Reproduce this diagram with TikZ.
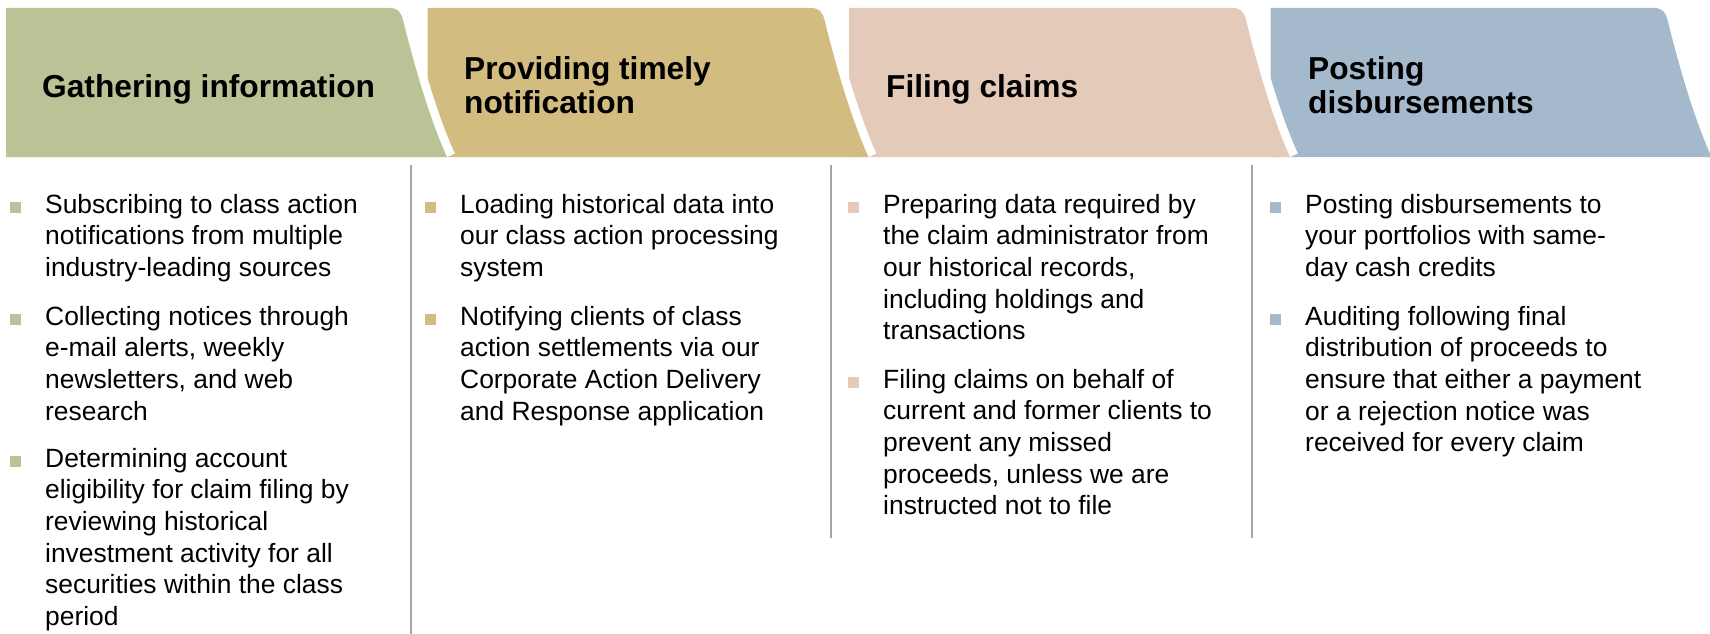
\documentclass[tikz,border=0pt]{standalone}
\usepackage{fontspec}
\setmainfont{Liberation Sans}
\definecolor{cgreen}{HTML}{B9C395}
\definecolor{ctan}{HTML}{D2BC80}
\definecolor{cpink}{HTML}{E3CAB9}
\definecolor{cblue}{HTML}{A5B9CD}
\definecolor{sepgray}{HTML}{A6A6A6}
\begin{document}
\begin{tikzpicture}[x=1pt,y=-1pt,
  halo/.style={draw=white,line width=17pt},
  hdr/.style={anchor=base west,inner sep=0pt,font=\fontsize{31.7}{35}\selectfont\bfseries},
  body/.style={anchor=base west,inner sep=0pt,font=\fontsize{26.4}{31.7}\selectfont},
  bul/.style={inner sep=0pt,minimum size=11pt,anchor=south west},
  sep/.style={draw=sepgray,line width=1.5pt}]
\useasboundingbox (0,0) rectangle (1710,634);
% header tabs, drawn right to left
\foreach \xo/\col in {1270.5/cblue,849/cpink,427.5/ctan,6/cgreen}{
  \begin{scope}[shift={(\xo,0)}]
    \draw[halo] (383,8) .. controls (392,8) and (395,12) .. (397,20) .. controls (407,60) and (422,115) .. (441,157);
    \fill[\col] (0,8) -- (383,8) .. controls (392,8) and (395,12) .. (397,20) .. controls (407,60) and (422,115) .. (441,157) -- (0,157) -- cycle;
  \end{scope}
}
% header texts
\node[hdr] (h1) at (42,97) {Gathering information};
\node[hdr] (h2) at (464,79) {\vtop{\hbox{Providing timely}\hbox{notification}}};
\node[hdr] (h3) at (886,97) {Filing claims};
\node[hdr] (h4) at (1308,79) {\vtop{\hbox{Posting}\hbox{disbursements}}};
% separators
\draw[sep] (411,165) -- (411,634);
\draw[sep] (831,165) -- (831,538);
\draw[sep] (1252,165) -- (1252,538);
% column 1
\node[bul,fill=cgreen] (s11) at (10,213) {};
\node[body] (t11) at (45,213) {\vtop{\hbox{Subscribing to class action}\hbox{notifications from multiple}\hbox{industry-leading sources}}};
\node[bul,fill=cgreen] (s12) at (10,325) {};
\node[body] (t12) at (45,325) {\vtop{\hbox{Collecting notices through}\hbox{e-mail alerts, weekly}\hbox{newsletters, and web}\hbox{research}}};
\node[bul,fill=cgreen] (s13) at (10,467) {};
\node[body] (t13) at (45,467) {\vtop{\hbox{Determining account}\hbox{eligibility for claim filing by}\hbox{reviewing historical}\hbox{investment activity for all}\hbox{securities within the class}\hbox{period}}};
% column 2
\node[bul,fill=ctan] (s21) at (425,213) {};
\node[body] (t21) at (460,213) {\vtop{\hbox{Loading historical data into}\hbox{our class action processing}\hbox{system}}};
\node[bul,fill=ctan] (s22) at (425,325) {};
\node[body] (t22) at (460,325) {\vtop{\hbox{Notifying clients of class}\hbox{action settlements via our}\hbox{Corporate Action Delivery}\hbox{and Response application}}};
% column 3
\node[bul,fill=cpink] (s31) at (848,213) {};
\node[body] (t31) at (883,213) {\vtop{\hbox{Preparing data required by}\hbox{the claim administrator from}\hbox{our historical records,}\hbox{including holdings and}\hbox{transactions}}};
\node[bul,fill=cpink] (s32) at (848,388) {};
\node[body] (t32) at (883,388) {\vtop{\hbox{Filing claims on behalf of}\hbox{current and former clients to}\hbox{prevent any missed}\hbox{proceeds, unless we are}\hbox{instructed not to file}}};
% column 4
\node[bul,fill=cblue] (s41) at (1270,213) {};
\node[body] (t41) at (1305,213) {\vtop{\hbox{Posting disbursements to}\hbox{your portfolios with same-}\hbox{day cash credits}}};
\node[bul,fill=cblue] (s42) at (1270,325) {};
\node[body] (t42) at (1305,325) {\vtop{\hbox{Auditing following final}\hbox{distribution of proceeds to}\hbox{ensure that either a payment}\hbox{or a rejection notice was}\hbox{received for every claim}}};
\end{tikzpicture}
\end{document}
